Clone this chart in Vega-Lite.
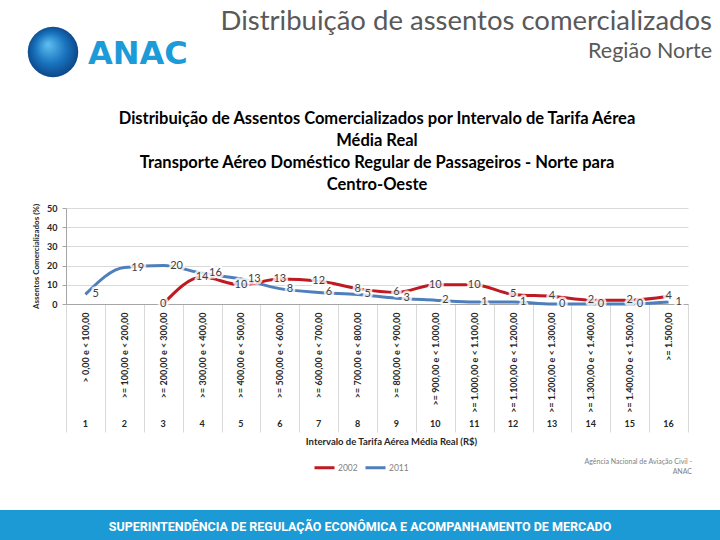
{
  "$schema": "https://vega.github.io/schema/vega-lite/v6.json",
  "background": "white",
  "padding": 0,
  "config": {"view": {"stroke": null}, "font": "Lato"},
  "datasets": {
    "assentos": [
      {"n": 1, "faixa": "> 0,00 e < 100,00", "ano": "2011", "pct": 5},
      {"n": 2, "faixa": ">= 100,00 e < 200,00", "ano": "2011", "pct": 19},
      {"n": 3, "faixa": ">= 200,00 e < 300,00", "ano": "2011", "pct": 20},
      {"n": 4, "faixa": ">= 300,00 e < 400,00", "ano": "2011", "pct": 16},
      {"n": 5, "faixa": ">= 400,00 e < 500,00", "ano": "2011", "pct": 13},
      {"n": 6, "faixa": ">= 500,00 e < 600,00", "ano": "2011", "pct": 8},
      {"n": 7, "faixa": ">= 600,00 e < 700,00", "ano": "2011", "pct": 6},
      {"n": 8, "faixa": ">= 700,00 e < 800,00", "ano": "2011", "pct": 5},
      {"n": 9, "faixa": ">= 800,00 e < 900,00", "ano": "2011", "pct": 3},
      {"n": 10, "faixa": ">= 900,00 e < 1.000,00", "ano": "2011", "pct": 2},
      {"n": 11, "faixa": ">= 1.000,00 e < 1.100,00", "ano": "2011", "pct": 1},
      {"n": 12, "faixa": ">= 1.100,00 e < 1.200,00", "ano": "2011", "pct": 1},
      {"n": 13, "faixa": ">= 1.200,00 e < 1.300,00", "ano": "2011", "pct": 0},
      {"n": 14, "faixa": ">= 1.300,00 e < 1.400,00", "ano": "2011", "pct": 0},
      {"n": 15, "faixa": ">= 1.400,00 e < 1.500,00", "ano": "2011", "pct": 0},
      {"n": 16, "faixa": ">= 1.500,00", "ano": "2011", "pct": 1},
      {"n": 3, "faixa": ">= 200,00 e < 300,00", "ano": "2002", "pct": 0},
      {"n": 4, "faixa": ">= 300,00 e < 400,00", "ano": "2002", "pct": 14},
      {"n": 5, "faixa": ">= 400,00 e < 500,00", "ano": "2002", "pct": 10},
      {"n": 6, "faixa": ">= 500,00 e < 600,00", "ano": "2002", "pct": 13},
      {"n": 7, "faixa": ">= 600,00 e < 700,00", "ano": "2002", "pct": 12},
      {"n": 8, "faixa": ">= 700,00 e < 800,00", "ano": "2002", "pct": 8},
      {"n": 9, "faixa": ">= 800,00 e < 900,00", "ano": "2002", "pct": 6},
      {"n": 10, "faixa": ">= 900,00 e < 1.000,00", "ano": "2002", "pct": 10},
      {"n": 11, "faixa": ">= 1.000,00 e < 1.100,00", "ano": "2002", "pct": 10},
      {"n": 12, "faixa": ">= 1.100,00 e < 1.200,00", "ano": "2002", "pct": 5},
      {"n": 13, "faixa": ">= 1.200,00 e < 1.300,00", "ano": "2002", "pct": 4},
      {"n": 14, "faixa": ">= 1.300,00 e < 1.400,00", "ano": "2002", "pct": 2},
      {"n": 15, "faixa": ">= 1.400,00 e < 1.500,00", "ano": "2002", "pct": 2},
      {"n": 16, "faixa": ">= 1.500,00", "ano": "2002", "pct": 4}
    ],
    "faixas": [
      {"n": 1}, {"n": 2}, {"n": 3}, {"n": 4}, {"n": 5}, {"n": 6}, {"n": 7}, {"n": 8},
      {"n": 9}, {"n": 10}, {"n": 11}, {"n": 12}, {"n": 13}, {"n": 14}, {"n": 15}, {"n": 16}
    ]
  },
  "columns": 3,
  "spacing": 0,
  "bounds": "flush",
  "align": "each",
  "concat": [
    {
      "width": 66, "height": 104,
      "data": {"values": [{"logo": "ANAC"}]},
      "mark": {
        "type": "point", "shape": "circle", "filled": true, "size": 2550, "opacity": 1, "strokeWidth": 0, "xOffset": 20,
        "fill": {"gradient": "radial", "x1": 0.4, "y1": 0.35, "r1": 0.02, "x2": 0.5, "y2": 0.5, "r2": 0.55,
          "stops": [{"offset": 0, "color": "#5bbcef"}, {"offset": 0.55, "color": "#1872bd"}, {"offset": 1, "color": "#0a3f7f"}]}
      },
      "encoding": {}
    },
    {
      "width": 622, "height": 208,
      "data": {"values": [{}]},
      "mark": {"type": "point", "opacity": 0},
      "encoding": {},
      "title": {
        "text": "ANAC", "orient": "top", "anchor": "start", "frame": "group",
        "offset": -71, "dx": 22,
        "font": "DejaVu Sans", "fontWeight": "bold", "fontSize": 32, "color": "#1d9ad8"
      }
    },
    {
      "width": 32, "height": 208,
      "data": {"values": [{}]},
      "mark": {"type": "point", "opacity": 0},
      "encoding": {},
      "title": {
        "text": "Distribuição de assentos comercializados",
        "subtitle": "Região Norte",
        "orient": "top", "anchor": "end", "frame": "group",
        "offset": -62, "dx": -8,
        "font": "Lato", "fontSize": 27.5, "fontWeight": "normal", "color": "#595959",
        "subtitleFont": "Lato", "subtitleFontSize": 21.5, "subtitleColor": "#595959", "subtitlePadding": 5
      }
    },
    {
      "width": 66, "height": 96,
      "data": {"values": [{}]},
      "mark": {"type": "point", "opacity": 0},
      "encoding": {}
    },
    {
      "width": 622, "height": 96,
      "data": {"name": "assentos"},
      "title": {
        "text": ["Distribuição de Assentos Comercializados por Intervalo de Tarifa Aérea", "Média Real", "Transporte Aéreo Doméstico Regular de Passageiros - Norte para", "Centro-Oeste"],
        "font": "Lato", "fontSize": 16.5, "fontWeight": "bold", "color": "#000000",
        "lineHeight": 22, "anchor": "middle", "offset": 10
      },
      "encoding": {
        "x": {
          "field": "faixa", "type": "nominal", "sort": {"field": "n", "op": "min"},
          "scale": {"type": "band", "paddingInner": 0, "paddingOuter": 0},
          "axis": {
            "title": null, "labelAngle": 270, "labelAlign": "right", "labelBaseline": "middle",
            "tickBand": "extent", "tickSize": 128, "tickColor": "#d9d9d9", "domainColor": "#a6a6a6",
            "labelPadding": -120, "labelFontSize": 9, "labelFontWeight": "bold", "labelColor": "#262626",
            "labelLimit": 200, "grid": false
          }
        }
      },
      "layer": [
        {
          "mark": {"type": "line", "interpolate": "monotone", "strokeWidth": 3},
          "encoding": {
            "y": {
              "field": "pct", "type": "quantitative",
              "scale": {"domain": [0, 50], "nice": false},
              "axis": {
                "title": "Assentos Comercializados (%)", "values": [0, 10, 20, 30, 40, 50], "tickCount": 10, "labelOverlap": false,
                "grid": true, "gridColor": "#d9d9d9", "domainColor": "#a6a6a6", "tickColor": "#a6a6a6",
                "tickSize": 4, "labelFontSize": 9, "labelFontWeight": "bold", "labelColor": "#262626",
                "labelPadding": 5, "titleFontSize": 8, "titleFontWeight": "bold", "titleColor": "#262626",
                "titlePadding": 6
              }
            },
            "color": {
              "field": "ano", "type": "nominal",
              "scale": {"domain": ["2002", "2011"], "range": ["#bd1a22", "#4f7fbb"]},
              "legend": {
                "orient": "none", "legendX": 313, "legendY": 456, "direction": "horizontal", "title": null,
                "symbolType": "stroke", "symbolSize": 400, "symbolStrokeWidth": 3,
                "labelFontSize": 8.5, "labelColor": "#7f7f7f", "labelFont": "Lato",
                "columnPadding": 1, "labelOffset": 2
              }
            }
          }
        },
        {
          "transform": [{"filter": "datum.ano == '2002'"}],
          "mark": {"type": "text", "align": "center", "baseline": "middle", "fontSize": 11, "color": "white", "stroke": "white", "strokeWidth": 5, "strokeOpacity": 0.8, "strokeJoin": "round"},
          "encoding": {
            "y": {"field": "pct", "type": "quantitative", "axis": null},
            "text": {"field": "pct", "type": "quantitative"}
          }
        },
        {
          "transform": [{"filter": "datum.ano == '2002'"}],
          "mark": {"type": "text", "align": "center", "baseline": "middle", "fontSize": 11, "color": "#404040"},
          "encoding": {
            "y": {"field": "pct", "type": "quantitative", "axis": null},
            "text": {"field": "pct", "type": "quantitative"}
          }
        },
        {
          "transform": [{"filter": "datum.ano == '2011'"}],
          "mark": {"type": "text", "align": "left", "baseline": "middle", "dx": 7, "fontSize": 11, "color": "white", "stroke": "white", "strokeWidth": 5, "strokeOpacity": 0.8, "strokeJoin": "round"},
          "encoding": {
            "y": {"field": "pct", "type": "quantitative", "axis": null},
            "text": {"field": "pct", "type": "quantitative"}
          }
        },
        {
          "transform": [{"filter": "datum.ano == '2011'"}],
          "mark": {"type": "text", "align": "left", "baseline": "middle", "dx": 7, "fontSize": 11, "color": "#404040"},
          "encoding": {
            "y": {"field": "pct", "type": "quantitative", "axis": null},
            "text": {"field": "pct", "type": "quantitative"}
          }
        }
      ],
      "resolve": {"axis": {"y": "independent"}}
    },
    {
      "width": 32, "height": 206,
      "data": {"values": [{}]},
      "mark": {"type": "point", "opacity": 0},
      "encoding": {}
    },
    {
      "width": 66, "height": 20,
      "data": {"values": [{}]},
      "mark": {"type": "point", "opacity": 0},
      "encoding": {}
    },
    {
      "width": 622, "height": 20,
      "data": {"name": "faixas"},
      "mark": {"type": "text", "fontSize": 9, "fontWeight": "bold", "color": "#262626", "baseline": "middle"},
      "encoding": {
        "x": {
          "field": "n", "type": "ordinal",
          "scale": {"type": "band", "paddingInner": 0, "paddingOuter": 0},
          "axis": {
            "title": "Intervalo de Tarifa Aérea Média Real (R$)", "labels": false, "ticks": false, "domain": false,
            "titleFontSize": 9.5, "titleFontWeight": "bold", "titleColor": "#262626", "titlePadding": 2, "titleX": 325
          }
        },
        "text": {"field": "n", "type": "ordinal"}
      }
    },
    {
      "width": 32, "height": 96,
      "data": {"values": [{}]},
      "mark": {"type": "point", "opacity": 0},
      "encoding": {},
      "title": {
        "text": ["Agência Nacional de Aviação Civil -", "ANAC"],
        "orient": "bottom", "anchor": "end", "frame": "group", "align": "right",
        "offset": -52, "dx": -28,
        "font": "Lato", "fontSize": 7, "fontWeight": "normal", "color": "#7f7f7f", "lineHeight": 10
      }
    },
    {
      "width": 66, "height": 30,
      "view": {"fill": "#1b9ad6", "stroke": null},
      "data": {"values": [{}]},
      "mark": {"type": "point", "opacity": 0},
      "encoding": {}
    },
    {
      "width": 622, "height": 30,
      "view": {"fill": "#1b9ad6", "stroke": null},
      "data": {"values": [{"rodape": "SUPERINTENDÊNCIA DE REGULAÇÃO ECONÔMICA E ACOMPANHAMENTO DE MERCADO"}]},
      "mark": {"type": "text", "font": "Roboto", "fontWeight": "bold", "fontSize": 12.5, "color": "white", "dx": -17, "dy": 2},
      "encoding": {"text": {"field": "rodape"}}
    },
    {
      "width": 32, "height": 30,
      "view": {"fill": "#1b9ad6", "stroke": null},
      "data": {"values": [{}]},
      "mark": {"type": "point", "opacity": 0},
      "encoding": {}
    }
  ]
}
